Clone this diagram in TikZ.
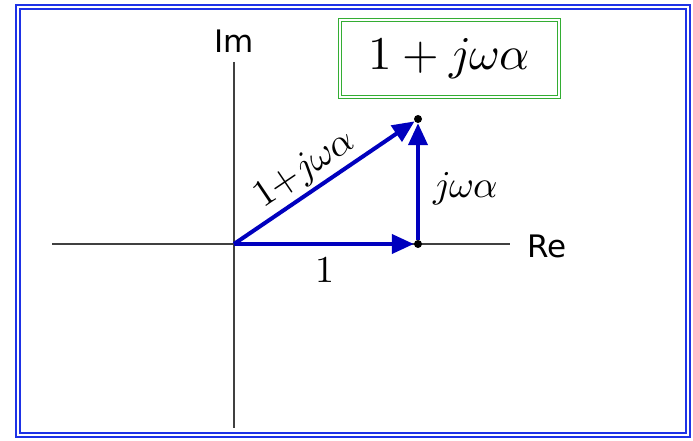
\documentclass[tikz,border=0pt]{standalone}
\usepackage{fontspec}
\usepackage{unicode-math}
\setmathfont{Latin Modern Math}
\newfontfamily\labfont{DejaVu Sans}
\usetikzlibrary{arrows.meta}
\begin{document}
\begin{tikzpicture}[x=1pt,y=-1pt,
  axis/.style={line width=1.3pt,black!75},
  vec/.style={line width=4pt,color={rgb,255:red,0;green,0;blue,190},-{Triangle[length=22pt,width=19pt]}},
  dot/.style={circle,fill=black,inner sep=0pt,minimum size=8pt},
  axlab/.style={font=\labfont\fontsize{31}{35}\selectfont},
  mlab/.style={font=\fontsize{38}{42}\selectfont}]
\useasboundingbox (0,0) rectangle (693,441);
% frame
\draw[color={rgb,255:red,30;green,50;blue,230},line width=1.6pt] (16,5) rectangle (690,437);
\draw[color={rgb,255:red,30;green,50;blue,230},line width=1.6pt] (20,9) rectangle (686,433);
% axes
\coordinate (xl) at (52,244);
\coordinate (xr) at (510,244);
\coordinate (yt) at (234,62);
\coordinate (yb) at (234,428);
\draw[axis] (xl) -- (xr);
\draw[axis] (yt) -- (yb);
\node[axlab] (im) at (234,41) {Im};
\node[axlab] (re) at (547,246) {Re};
% points
\node[dot] (p) at (418,244) {};
\node[dot] (q) at (418,119) {};
\coordinate (oo) at (234,244);
\draw[vec] (oo) -- (p);
\draw[vec] (p) -- (q);
\draw[vec] (oo) -- (q);
% labels
\node[mlab,rotate=34,inner sep=0pt] (l1) at (305,170) {$1{+}j\omega\alpha$};
\node[mlab,inner sep=0pt] (l2) at (466,189) {$j\omega\alpha$};
\node[mlab,inner sep=0pt] (l3) at (325,270) {$1$};
% title box
\node[draw=green!60!black!80,double=white,double distance=2pt,line width=1pt,
  minimum width=219pt,minimum height=77pt,font=\fontsize{47}{52}\selectfont] (t) at (449,59) {$1+j\omega\alpha$};
\end{tikzpicture}
\end{document}
